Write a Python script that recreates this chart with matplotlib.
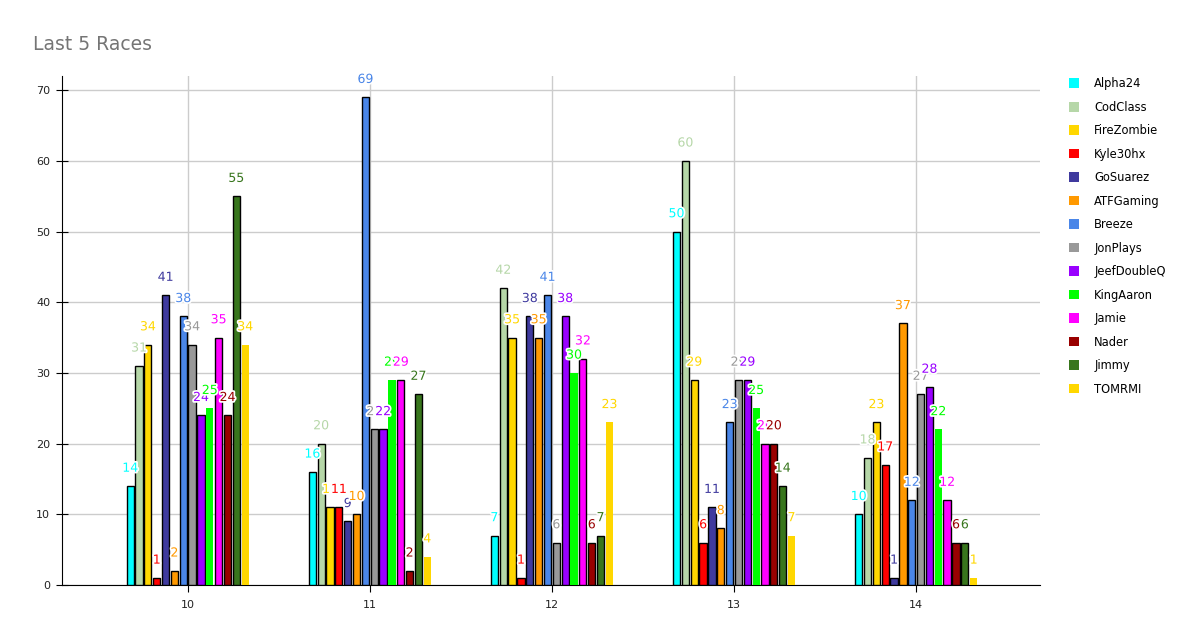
import numpy as np
import matplotlib
matplotlib.use("Agg")
import matplotlib.pyplot as plt
import matplotlib.patheffects as pe
from matplotlib.patches import Patch

races = ["10", "11", "12", "13", "14"]
players = ["Alpha24", "CodClass", "FireZombie", "Kyle30hx", "GoSuarez", "ATFGaming", "Breeze",
           "JonPlays", "JeefDoubleQ", "KingAaron", "Jamie", "Nader", "Jimmy", "TOMRMI"]
colors = ["#00FFFF", "#B6D7A8", "#FFD700", "#FF0000", "#3F3A9E", "#FF9900", "#4A86E8",
          "#999999", "#9900FF", "#00FF00", "#FF00FF", "#990000", "#38761D", "#FFD700"]
outlined = [True, True, True, True, True, True, True, True, True, False, True, True, True, False]

scores = {
    "Alpha24":     [14, 16, 7, 50, 10],
    "CodClass":    [31, 20, 42, 60, 18],
    "FireZombie":  [34, 11, 35, 29, 23],
    "Kyle30hx":    [1, 11, 1, 6, 17],
    "GoSuarez":    [41, 9, 38, 11, 1],
    "ATFGaming":   [2, 10, 35, 8, 37],
    "Breeze":      [38, 69, 41, 23, 12],
    "JonPlays":    [34, 22, 6, 29, 27],
    "JeefDoubleQ": [24, 22, 38, 29, 28],
    "KingAaron":   [25, 29, 30, 25, 22],
    "Jamie":       [35, 29, 32, 20, 12],
    "Nader":       [24, 2, 6, 20, 6],
    "Jimmy":       [55, 27, 7, 14, 6],
    "TOMRMI":      [34, 4, 23, 7, 1],
}

fig = plt.figure(figsize=(11.99, 6.43), dpi=100)
ax = fig.add_axes([62 / 1199, 58 / 643, 978 / 1199, 509 / 643])

x = np.arange(len(races))
n = len(players)
slot = 0.68 / n
bw = slot * 0.82

for i, p in enumerate(players):
    pos = x - 0.34 + slot * (i + 0.5)
    ax.bar(pos, scores[p], width=bw, color=colors[i],
           edgecolor="black" if outlined[i] else colors[i],
           linewidth=1 if outlined[i] else 0, zorder=3)
    for xp, v in zip(pos, scores[p]):
        ax.text(xp, v + 1.6, str(v), ha="center", va="bottom", fontsize=9,
                color=colors[i], zorder=5,
                path_effects=[pe.withStroke(linewidth=2.5, foreground="white")])

ax.set_xlim(-0.69, 4.68)
ax.set_ylim(0, 72)
ax.set_yticks(range(0, 71, 10))
ax.set_xticks(x)
ax.set_xticklabels(races)
ax.grid(True, color="#cccccc", linewidth=1, zorder=0)
ax.set_axisbelow(True)
for s in ["top", "right"]:
    ax.spines[s].set_visible(False)
ax.spines["left"].set_color("black")
ax.spines["bottom"].set_color("black")
ax.tick_params(axis="x", labelsize=8, length=5, colors="#222222", color="black", pad=6)
ax.tick_params(axis="y", labelsize=8, length=9, direction="inout", colors="#222222", color="black", pad=4)

fig.text(33 / 1199, 1 - 45 / 643, "Last 5 Races", fontsize=13.5, color="#757575", va="center")

handles = [Patch(facecolor=c, edgecolor="none", label=p) for p, c in zip(players, colors)]
ax.legend(handles=handles, loc="upper left", bbox_to_anchor=(1.019, 1.018), frameon=False, fontsize=8.3,
          handlelength=0.9, handleheight=0.9, labelspacing=0.91, handletextpad=1.3)

fig.savefig("out.png", dpi=100)
